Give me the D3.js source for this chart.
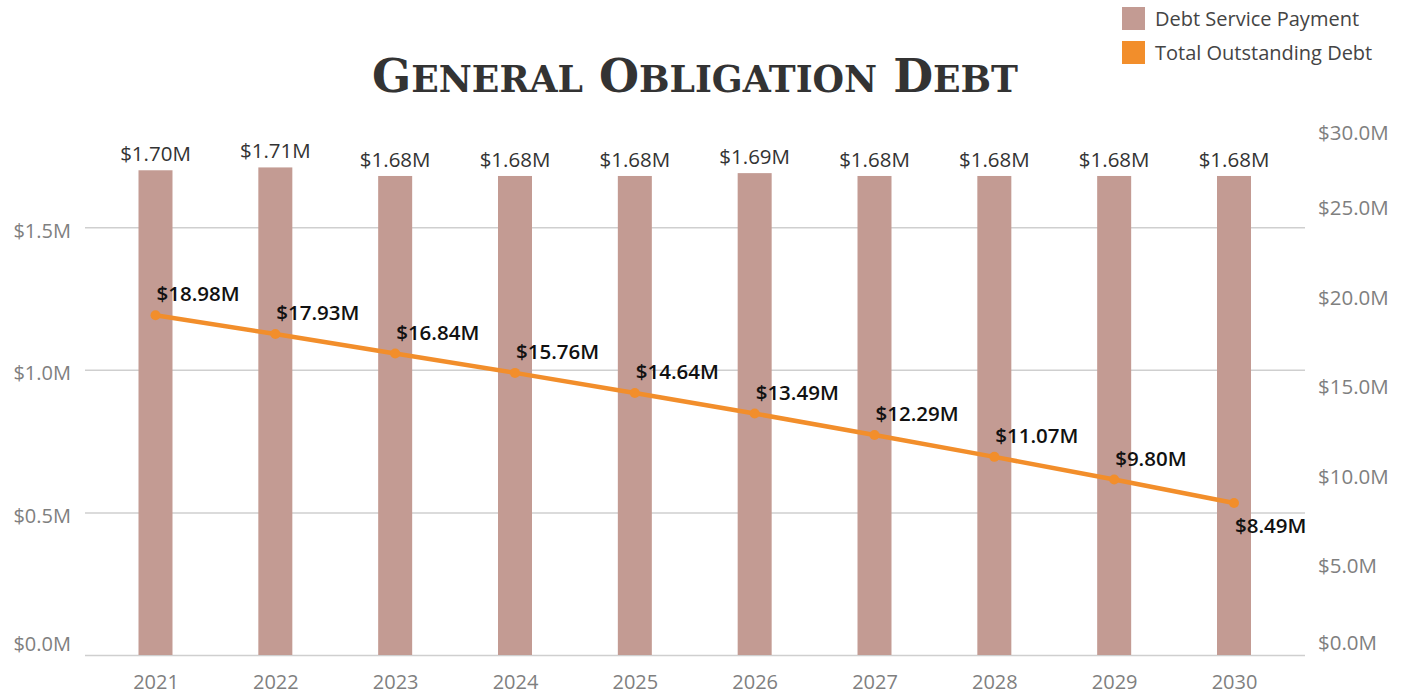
<!DOCTYPE html>
<html>
<head>
<meta charset="utf-8">
<script src="https://cdn.jsdelivr.net/npm/d3@7"></script>
<style>
    body { margin: 0; background: #fff; }
    svg { display: block; }
    .axis text { font-family: "Open Sans", sans-serif; font-size: 20px; fill: #7f7f7f; }
    .axis .domain { display: none; }
</style>
</head>
<body>
<div id="graphic"></div>
<script>
// Data (values in $M)
var years = ['2021', '2022', '2023', '2024', '2025', '2026', '2027', '2028', '2029', '2030'];
var debtService = [1.70, 1.71, 1.68, 1.68, 1.68, 1.69, 1.68, 1.68, 1.68, 1.68];
var outstanding = [18.98, 17.93, 16.84, 15.76, 14.64, 13.49, 12.29, 11.07, 9.80, 8.49];
var leftTicks = [0, 0.5, 1.0, 1.5];
var rightTicks = [0, 5, 10, 15, 20, 25, 30];
var legendLabels = ['Debt Service Payment', 'Total Outstanding Debt'];

// Variables
var w = 1407, h = 696;
var pane = {left: 85, right: 1305, top: 118, bottom: 655};
var barColor = '#c39b93';
var lineColor = '#f28e2b';
var fmt = function (v) { return '$' + d3.format('.1f')(v) + 'M'; };
var fmt2 = function (v) { return '$' + d3.format('.2f')(v) + 'M'; };

var svg = d3.select('#graphic')
    .append('svg')
    .attr('width', w)
    .attr('height', h);

// Scale
var xScale = d3.scalePoint()
    .domain(years)
    .range([155.5, 1234]);
var yLeft = d3.scaleLinear()
    .domain([0, 1.5])
    .range([pane.bottom, 227.3]);
var yRight = d3.scaleLinear()
    .domain([0, 30])
    .range([pane.bottom, pane.top]);

// Gridlines
svg.append('g')
    .attr('class', 'grid')
    .attr('transform', 'translate(' + pane.left + ',0)')
    .call(d3.axisRight(yLeft).tickValues(leftTicks).tickSize(pane.right - pane.left).tickFormat(''))
    .call(function (g) {
        g.select('.domain').remove();
        g.selectAll('line').attr('stroke', '#cfcfcf').attr('stroke-width', 1.5);
    });

// Y-axis left
svg.append('g')
    .attr('class', 'axis')
    .attr('transform', 'translate(71,0)')
    .call(d3.axisLeft(yLeft).tickValues(leftTicks).tickSize(0).tickPadding(0).tickFormat(fmt))
    .call(function (g) {
        g.selectAll('text')
            .attr('dy', '0.5em')
            .attr('y', function (d) { return d === 0 ? -15 : 0; });
    });

// Y-axis right
svg.append('g')
    .attr('class', 'axis')
    .attr('transform', 'translate(1318,0)')
    .call(d3.axisRight(yRight).tickValues(rightTicks).tickSize(0).tickPadding(0).tickFormat(fmt))
    .call(function (g) {
        g.selectAll('text')
            .style('font-size', '20.5px')
            .attr('dy', '0.36em')
            .attr('y', function (d) { return d === 0 ? -13 : (d === 30 ? 14 : 0); });
    });

// X-axis
svg.append('g')
    .attr('class', 'axis')
    .attr('transform', 'translate(0,' + pane.bottom + ')')
    .call(d3.axisBottom(xScale).tickSize(0).tickPadding(20));

// Bars
var barW = 34;
svg.selectAll('.bar')
    .data(years)
    .enter()
    .append('rect')
    .attr('class', 'bar')
    .attr('x', function (d) { return xScale(d) - barW / 2; })
    .attr('y', function (d, i) { return yLeft(debtService[i]); })
    .attr('width', barW)
    .attr('height', function (d, i) { return pane.bottom - yLeft(debtService[i]); })
    .attr('fill', barColor);

// Bar labels
svg.selectAll('.bar-label')
    .data(years)
    .enter()
    .append('text')
    .attr('class', 'bar-label')
    .attr('x', function (d) { return xScale(d); })
    .attr('y', function (d, i) { return yLeft(debtService[i]) - 9; })
    .attr('text-anchor', 'middle')
    .attr('font-family', '"Open Sans", sans-serif')
    .attr('font-size', '20.5px')
    .attr('fill', '#333')
    .text(function (d, i) { return fmt2(debtService[i]); });

// Line
var line = d3.line()
    .x(function (d, i) { return xScale(years[i]); })
    .y(function (d) { return yRight(d); });

svg.append('path')
    .datum(outstanding)
    .attr('d', line)
    .attr('fill', 'none')
    .attr('stroke', lineColor)
    .attr('stroke-width', 4.5);

svg.selectAll('.dot')
    .data(outstanding)
    .enter()
    .append('circle')
    .attr('class', 'dot')
    .attr('cx', function (d, i) { return xScale(years[i]); })
    .attr('cy', function (d) { return yRight(d); })
    .attr('r', 5)
    .attr('fill', lineColor);

// Line labels (last one below the point)
var last = outstanding.length - 1;
svg.selectAll('.line-label')
    .data(outstanding)
    .enter()
    .append('text')
    .attr('class', 'line-label')
    .attr('x', function (d, i) { return xScale(years[i]) + 1; })
    .attr('y', function (d, i) { return i === last ? yRight(d) + 30 : yRight(d) - 14; })
    .attr('font-family', '"Open Sans", sans-serif')
    .attr('font-size', '20.5px')
    .attr('font-weight', 600)
    .attr('fill', '#111')
    .text(function (d) { return fmt2(d); });

// Title
var title = svg.append('text')
    .attr('x', 372)
    .attr('y', 92)
    .attr('textLength', 646)
    .attr('lengthAdjust', 'spacingAndGlyphs')
    .attr('font-family', '"DejaVu Serif", serif')
    .attr('font-weight', 'bold')
    .attr('fill', '#333');
['General', 'Obligation', 'Debt'].forEach(function (word, k) {
    title.append('tspan')
        .attr('font-size', '47px')
        .text((k > 0 ? ' ' : '') + word.charAt(0));
    title.append('tspan')
        .attr('font-size', '37px')
        .text(word.slice(1).toUpperCase());
});

// Legend
var legend = svg.selectAll('.legend')
    .data(legendLabels)
    .enter()
    .append('g')
    .attr('class', 'legend')
    .attr('transform', function (d, i) { return 'translate(1122,' + (7 + i * 34) + ')'; });
legend.append('rect')
    .attr('width', 23)
    .attr('height', 23)
    .attr('fill', function (d, i) { return i === 0 ? barColor : lineColor; });
legend.append('text')
    .attr('x', 33)
    .attr('y', 12)
    .attr('dy', '0.35em')
    .attr('font-family', '"Open Sans", sans-serif')
    .attr('font-size', '20px')
    .attr('fill', '#444')
    .text(function (d) { return d; });
</script>
</body>
</html>
